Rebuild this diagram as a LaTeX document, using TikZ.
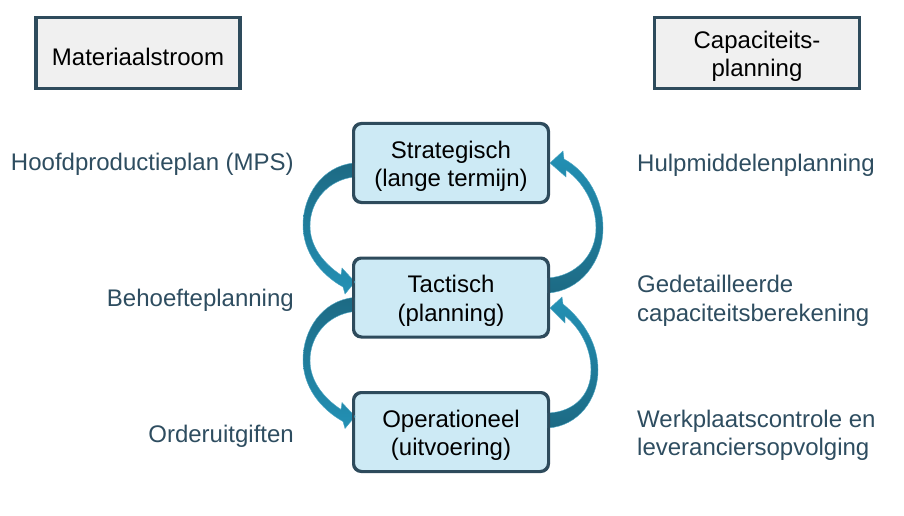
\documentclass[tikz,border=0pt]{standalone}
\usepackage{fontspec}
\setmainfont{Liberation Sans}
\definecolor{boxfill}{HTML}{CDEAF5}
\definecolor{boxline}{HTML}{2E4B5C}
\definecolor{headfill}{HTML}{F0F0F0}
\definecolor{labeltext}{HTML}{2E4D60}
\definecolor{arrdark}{HTML}{1D6A84}
\definecolor{arrlight}{HTML}{2391B5}
\begin{document}
\begin{tikzpicture}[x=1pt,y=-1pt,
  every node/.style={font=\fontsize{24}{28.5}\selectfont},
  boxtext/.style={align=center,inner sep=0pt,yshift=-3.5pt},
  levelbox/.style={draw=boxline,line width=2pt,fill=boxfill,rounded corners=8pt,
    minimum width=194pt,minimum height=78pt,inner sep=0pt},
  headbox/.style={draw=boxline,line width=3.5pt,fill=headfill,
    minimum height=71pt,inner sep=0pt},
  sidelabel/.style={text=labeltext,inner sep=0pt},
  arrowdown/.style={top color=arrdark,bottom color=arrlight,draw=arrlight!80!white,line width=0.4pt},
  arrowup/.style={top color=arrlight,bottom color=arrdark,draw=arrlight!80!white,line width=0.4pt}]
\useasboundingbox (0,0) rectangle (904,516);

% header boxes
\node[headbox,minimum width=204pt,label={[boxtext]center:Materiaalstroom}] (mat) at (138,53) {};
\node[headbox,minimum width=205pt,label={[boxtext]center:{Capaciteits-\\planning}}] (cap) at (757,53) {};

% level boxes
\node[levelbox,label={[boxtext]center:{Strategisch\\(lange termijn)}}] (strat) at (451,163) {};
\node[levelbox,label={[boxtext]center:{Tactisch\\(planning)}}] (tact) at (451,297.5) {};
\node[levelbox,label={[boxtext]center:{Operationeel\\(uitvoering)}}] (oper) at (451,432) {};

% side labels
\node[sidelabel,anchor=east] (mps) at (294,164) {Hoofdproductieplan (MPS)};
\node[sidelabel,anchor=east] (beh) at (294,300) {Behoefteplanning};
\node[sidelabel,anchor=east] (ord) at (294,436) {Orderuitgiften};
\node[sidelabel,anchor=west] (hulp) at (637,165) {Hulpmiddelenplanning};
\node[sidelabel,anchor=west,align=left] (ged) at (637,301) {Gedetailleerde\\capaciteitsberekening};
\node[sidelabel,anchor=west,align=left] (werk) at (637,435.5) {Werkplaatscontrole en\\leveranciersopvolging};

% left curved arrows (strat -> tact, tact -> oper)
\foreach \src/\shift in {strat/0,tact/134.5}{
\begin{scope}[yshift=-\shift pt]
\path[arrowdown]
  (354,163) .. controls (322,166) and (303,196) .. (303,225)
  .. controls (303,252) and (320,274) .. (343,287)
  -- (345,294) -- (355,282) -- (342,268) -- (341,275)
  .. controls (323,263) and (310,246) .. (310,226)
  .. controls (310,201) and (328,180) .. (354,177) -- cycle;
\end{scope}
}

% right curved arrows (tact -> strat, oper -> tact)
\path[arrowup]
  (548,293) .. controls (580,291) and (603,262) .. (603,228)
  .. controls (603,200) and (588,172) .. (564,159)
  -- (563,151) -- (550,163) -- (566,177) -- (566,170)
  .. controls (582,181) and (596,203) .. (596,228)
  .. controls (596,255) and (576,276) .. (548,278) -- cycle;
\path[arrowup]
  (548,428) .. controls (578,426) and (598,400) .. (598,370)
  .. controls (598,345) and (585,322) .. (563,304)
  -- (562,297) -- (550,308) -- (565,323) -- (565,316)
  .. controls (580,328) and (591,348) .. (591,370)
  .. controls (591,395) and (574,412) .. (548,413) -- cycle;

% redraw box borders on top of arrow ends
\draw[draw=boxline,line width=2pt,rounded corners=8pt] (strat.south west) rectangle (strat.north east);
\draw[draw=boxline,line width=2pt,rounded corners=8pt] (tact.south west) rectangle (tact.north east);
\draw[draw=boxline,line width=2pt,rounded corners=8pt] (oper.south west) rectangle (oper.north east);
\end{tikzpicture}
\end{document}
